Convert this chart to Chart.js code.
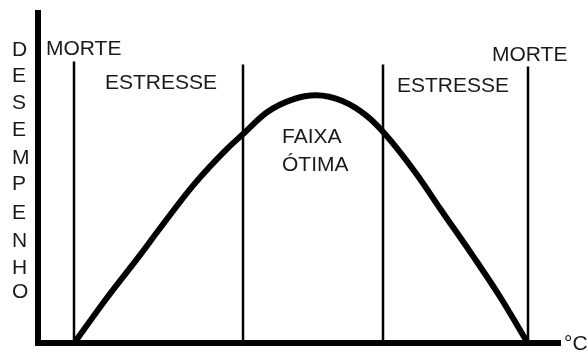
<!DOCTYPE html>
<html>
<head>
<meta charset="utf-8">
<script src="https://cdn.jsdelivr.net/npm/chart.js@4.4.1/dist/chart.umd.min.js"></script>
<style>
  body { margin: 0; background: #fff; }
  #chart { display: block; }
</style>
</head>
<body>
<canvas id="chart" width="588" height="356"></canvas>
<script>
// curve (temperature -> performance), units
var tempValues = [36, 69, 102, 122, 155, 189, 205, 229, 255, 278, 305, 329, 347, 379, 402, 435, 462, 490];
var perfValues = [0, 46, 89, 116, 159, 196, 211, 233, 246, 250, 244, 229, 211, 170, 136, 88, 47, 0];

// zone limits (vertical lines) and their heights
var limitTemps = [36, 205, 345, 490];
var limitTops = [284, 281, 281, 279];

// vertical axis title, one letter per tick
var yLetters = ['D', 'E', 'S', 'E', 'M', 'P', 'E', 'N', 'H', 'O'];
var yLetterPos = [296, 269, 242, 215, 187, 160, 131, 103, 76, 52];

// zone texts
var zoneLabels = ['MORTE', 'ESTRESSE', 'FAIXA', 'ÓTIMA', 'ESTRESSE', 'MORTE', '°C'];
var zoneLabelX = [8, 67, 244, 244, 359, 454, 526];
var zoneLabelY = [291, 256, 202, 174, 253, 285, -7];

var FONT = '"Liberation Sans", Arial, sans-serif';

var curve = [];
for (var i = 0; i < tempValues.length; i++) {
  curve.push({x: tempValues[i], y: perfValues[i]});
}

var datasets = [{
  data: curve,
  borderColor: '#000',
  borderWidth: 6,
  pointRadius: 0,
  cubicInterpolationMode: 'monotone',
  borderCapStyle: 'round'
}];

limitTemps.forEach(function(t, k) {
  datasets.push({
    data: [{x: t, y: 0}, {x: t, y: limitTops[k]}],
    borderColor: '#000',
    borderWidth: 2.5,
    pointRadius: 0
  });
});

// draws the zone names
var zoneText = {
  id: 'zoneText',
  afterDatasetsDraw: function(chart) {
    var ctx = chart.ctx;
    var xs = chart.scales.x, ys = chart.scales.y;
    ctx.save();
    ctx.fillStyle = '#1a1a1a';
    ctx.font = '21px ' + FONT;
    ctx.textAlign = 'left';
    ctx.textBaseline = 'alphabetic';
    for (var i = 0; i < zoneLabels.length; i++) {
      ctx.fillText(zoneLabels[i], xs.getPixelForValue(zoneLabelX[i]), ys.getPixelForValue(zoneLabelY[i]));
    }
    ctx.restore();
  }
};

new Chart(document.getElementById('chart'), {
  type: 'line',
  data: { datasets: datasets },
  plugins: [zoneText],
  options: {
    responsive: false,
    animation: false,
    layout: { padding: { left: 12, top: 13, right: 28, bottom: 0 } },
    plugins: {
      legend: { display: false },
      tooltip: { enabled: false }
    },
    scales: {
      x: {
        type: 'linear',
        min: 0,
        max: 522,
        grid: { display: false, drawTicks: false },
        ticks: { display: false },
        border: { display: true, color: '#000', width: 6 },
        afterFit: function(s) { s.height = 10; }
      },
      y: {
        type: 'linear',
        min: 0,
        max: 333,
        grid: { display: false, drawTicks: false },
        border: { display: true, color: '#000', width: 6 },
        afterBuildTicks: function(s) {
          s.ticks = yLetterPos.map(function(v) { return {value: v}; });
        },
        ticks: {
          autoSkip: false,
          crossAlign: 'far',
          padding: 0,
          color: '#1a1a1a',
          font: { family: FONT, size: 21 },
          callback: function(v, i) { return yLetters[i]; }
        },
        afterFit: function(s) { s.width = 26; }
      }
    }
  }
});
</script>
</body>
</html>
